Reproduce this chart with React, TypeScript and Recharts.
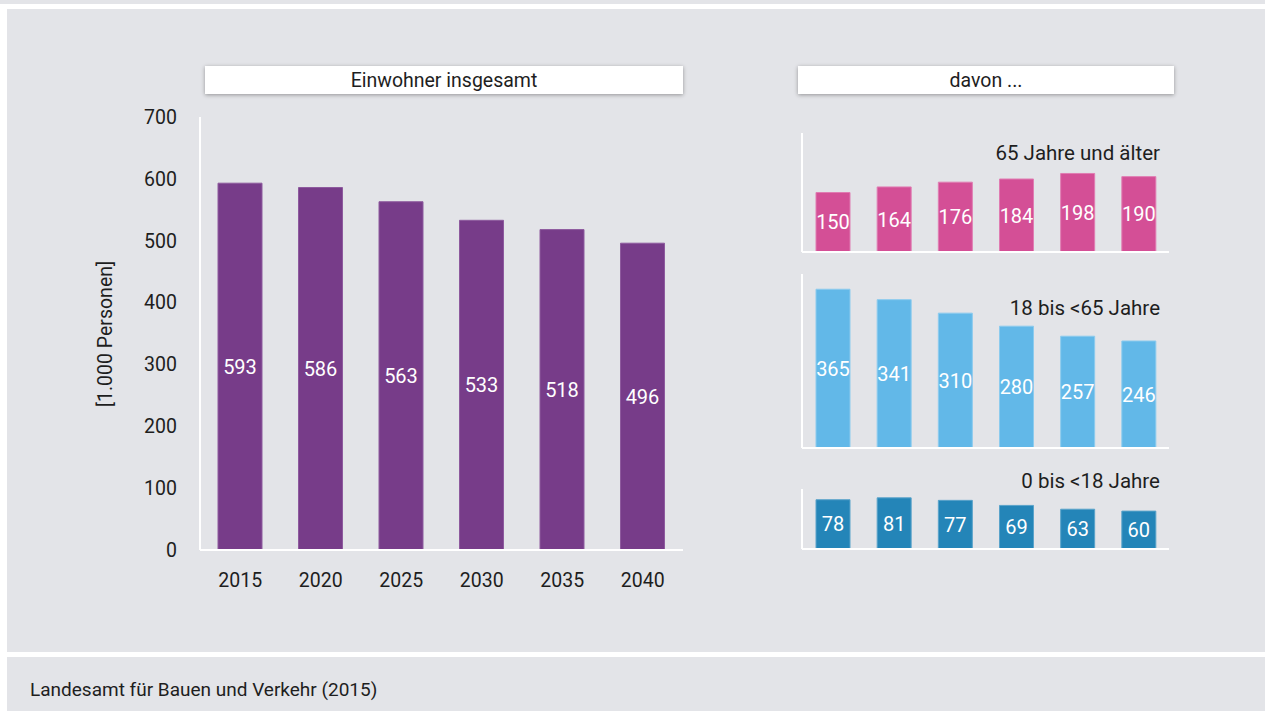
import { BarChart, Bar, XAxis, YAxis, LabelList } from "recharts";

const YEARS = ["2015", "2020", "2025", "2030", "2035", "2040"];
const TOTAL = [593, 586, 563, 533, 518, 496];
const SENIORS = [150, 164, 176, 184, 198, 190];
const ADULTS = [365, 341, 310, 280, 257, 246];
const CHILDREN = [78, 81, 77, 69, 63, 60];
const Y_TICKS = [0, 100, 200, 300, 400, 500, 600, 700];

const data = YEARS.map((year, i) => ({
  year,
  total: TOTAL[i],
  seniors: SENIORS[i],
  adults: ADULTS[i],
  children: CHILDREN[i],
}));

const FONT = "Roboto, 'Noto Sans', sans-serif";
const BG = "#e3e4e8";
const TEXT = "#1e1e1e";

const boxStyle: React.CSSProperties = {
  position: "absolute",
  top: 66,
  height: 28,
  background: "#fff",
  boxShadow: "0 1px 4px rgba(0,0,0,0.35)",
  display: "flex",
  alignItems: "center",
  justifyContent: "center",
  fontSize: 19.5,
  color: TEXT,
};

const subTitle: React.CSSProperties = {
  position: "absolute",
  right: 1265 - 1160,
  fontSize: 20.5,
  color: TEXT,
  lineHeight: "22px",
  whiteSpace: "nowrap",
};

function SmallPanel(props: {
  dataKey: string;
  color: string;
  stroke: string;
  top: number;
  height: number;
  margin: { top: number; right: number; bottom: number; left: number };
  max: number;
}) {
  return (
    <div style={{ position: "absolute", left: 780, top: props.top }}>
      <BarChart width={400} height={props.height} data={data} margin={props.margin}>
        <XAxis
          dataKey="year"
          height={1}
          tick={false}
          tickLine={false}
          axisLine={{ stroke: "#fff", strokeWidth: 2 }}
        />
        <YAxis
          width={1}
          domain={[0, props.max]}
          tick={false}
          tickLine={false}
          axisLine={{ stroke: "#fff", strokeWidth: 2 }}
        />
        <Bar
          dataKey={props.dataKey}
          fill={props.color}
          stroke={props.stroke}
          strokeWidth={1}
          barSize={34}
          isAnimationActive={false}
        >
          <LabelList
            dataKey={props.dataKey}
            position="center"
            fill="#fff"
            fontSize={20}
            fontFamily={FONT}
          />
        </Bar>
      </BarChart>
    </div>
  );
}

export default function App() {
  return (
    <div
      style={{
        position: "relative",
        width: 1265,
        height: 711,
        background: "#fff",
        fontFamily: FONT,
        overflow: "hidden",
      }}
    >
      <style>{"body{margin:0}"}</style>
      <div style={{ position: "absolute", left: 0, top: 0, width: 1265, height: 4, background: BG }} />
      <div style={{ position: "absolute", left: 7, top: 9, width: 1258, height: 643, background: BG }} />
      <div style={{ position: "absolute", left: 7, top: 657, width: 1258, height: 54, background: BG }} />

      <div style={{ ...boxStyle, left: 205, width: 478 }}>Einwohner insgesamt</div>
      <div style={{ ...boxStyle, left: 798, width: 376 }}>davon ...</div>

      <div
        style={{
          position: "absolute",
          left: 105,
          top: 334,
          transform: "translate(-50%, -50%) rotate(-90deg)",
          fontSize: 19.5,
          color: TEXT,
          whiteSpace: "nowrap",
        }}
      >
        [1.000 Personen]
      </div>

      <div style={{ position: "absolute", left: 0, top: 0 }}>
        <BarChart
          width={700}
          height={600}
          data={data}
          margin={{ top: 117, right: 17, bottom: 10, left: 140 }}
        >
          <XAxis
            dataKey="year"
            height={40}
            tickLine={false}
            tickSize={0}
            tickMargin={23}
            axisLine={{ stroke: "#fff", strokeWidth: 2 }}
            tick={{ fill: TEXT, fontSize: 19.5, fontFamily: FONT }}
          />
          <YAxis
            width={60}
            domain={[0, 700]}
            ticks={Y_TICKS}
            tickLine={false}
            tickSize={0}
            tickMargin={23}
            axisLine={{ stroke: "#fff", strokeWidth: 2 }}
            tick={{ fill: TEXT, fontSize: 19.5, fontFamily: FONT }}
          />
          <Bar
            dataKey="total"
            fill="#773c89"
            stroke="#8e5a9e"
            strokeWidth={1}
            barSize={44}
            isAnimationActive={false}
          >
            <LabelList dataKey="total" position="center" fill="#fff" fontSize={20} fontFamily={FONT} />
          </Bar>
        </BarChart>
      </div>

      <SmallPanel
        dataKey="seniors"
        color="#d44f96"
        stroke="#e07cb2"
        top={100}
        height={170}
        margin={{ top: 33, right: 11, bottom: 17, left: 21 }}
        max={300}
      />
      <SmallPanel
        dataKey="adults"
        color="#62b8e8"
        stroke="#8ccbee"
        top={260}
        height={200}
        margin={{ top: 14, right: 11, bottom: 11, left: 21 }}
        max={400}
      />
      <SmallPanel
        dataKey="children"
        color="#2485b8"
        stroke="#5aa3ca"
        top={470}
        height={100}
        margin={{ top: 19, right: 11, bottom: 20, left: 21 }}
        max={95}
      />

      <div style={{ ...subTitle, top: 142 }}>65 Jahre und älter</div>
      <div style={{ ...subTitle, top: 297 }}>18 bis &lt;65 Jahre</div>
      <div style={{ ...subTitle, top: 470 }}>0 bis &lt;18 Jahre</div>

      <div style={{ position: "absolute", left: 30, top: 678, fontSize: 19, color: TEXT, whiteSpace: "nowrap" }}>
        Landesamt für Bauen und Verkehr (2015)
      </div>
    </div>
  );
}
